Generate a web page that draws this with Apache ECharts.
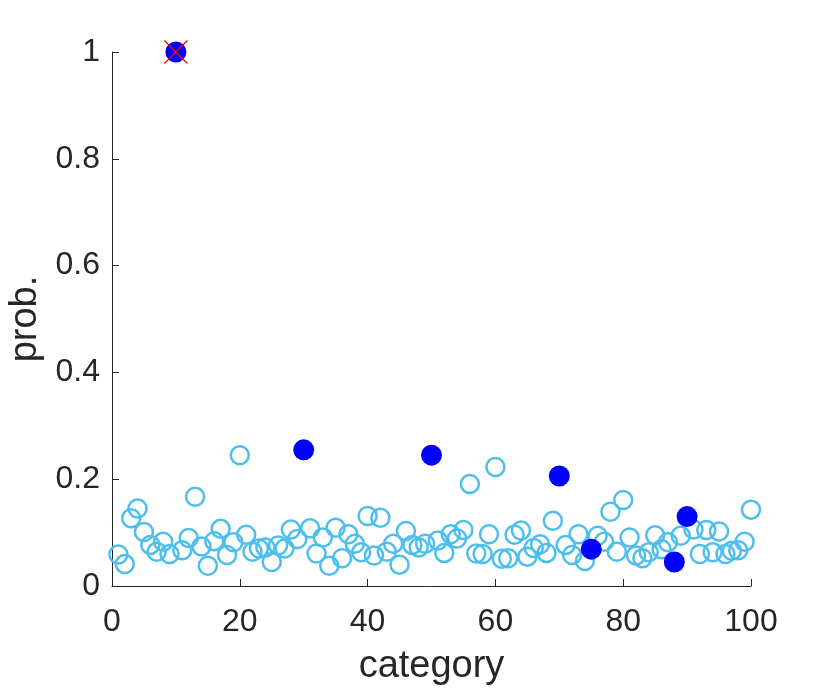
<!DOCTYPE html>
<html>
<head>
<meta charset="utf-8">
<script src="https://cdn.jsdelivr.net/npm/echarts@6/dist/echarts.min.js"></script>
<style>
  html, body { margin: 0; padding: 0; background: #fff; }
  #chart { width: 830px; height: 692px; }
</style>
</head>
<body>
<div id="chart"></div>
<script>
// probability of each category (1..100), null where the point is drawn filled
var probs = [
  0.059, 0.041, 0.127, 0.145, 0.101, 0.077, 0.064, 0.083, 0.060, null,
  0.067, 0.090, 0.167, 0.074, 0.038, 0.084, 0.107, 0.058, 0.082, 0.245,
  0.096, 0.064, 0.070, 0.072, 0.045, 0.076, 0.070, 0.106, 0.088, null,
  0.108, 0.061, 0.091, 0.038, 0.109, 0.052, 0.097, 0.079, 0.063, 0.131,
  0.057, 0.128, 0.064, 0.079, 0.040, 0.103, 0.077, 0.072, 0.079, null,
  0.085, 0.062, 0.097, 0.089, 0.105, 0.191, 0.061, 0.060, 0.097, 0.223,
  0.051, 0.052, 0.096, 0.104, 0.055, 0.071, 0.078, 0.062, 0.122, null,
  0.077, 0.058, 0.097, 0.047, null, 0.094, 0.083, 0.139, 0.064, 0.161,
  0.091, 0.057, 0.052, 0.063, 0.095, 0.069, 0.082, null, 0.094, null,
  0.106, 0.060, 0.105, 0.063, 0.102, 0.060, 0.066, 0.067, 0.083, 0.143
];

// highlighted categories and their probabilities
var selCats = [10, 30, 50, 70, 75, 88, 90];
var selProbs = [1.0, 0.255, 0.245, 0.206, 0.069, 0.045, 0.130];

// the category marked with a cross
var crossCats = [10];
var crossProbs = [1.0];

var xTicks = [0, 20, 40, 60, 80, 100];
var yTicks = [0, 0.2, 0.4, 0.6, 0.8, 1];

var textColor = '#262626';
var fontName = 'Liberation Sans';

var hollowData = [];
for (var i = 0; i < probs.length; i++) {
  if (probs[i] !== null) hollowData.push([i + 1, probs[i]]);
}
var filledData = selCats.map(function (c, k) { return [c, selProbs[k]]; });
var crossData = crossCats.map(function (c, k) { return [c, crossProbs[k]]; });

var chart = echarts.init(document.getElementById('chart'));

var axisCommon = {
  type: 'value',
  axisLine: { show: true, lineStyle: { color: textColor, width: 1 } },
  axisTick: { show: true, inside: true, length: 7, lineStyle: { color: textColor } },
  splitLine: { show: false },
  nameLocation: 'middle',
  nameTextStyle: { color: textColor, fontSize: 38, fontFamily: fontName }
};

var option = {
  backgroundColor: '#fff',
  animation: false,
  grid: { left: 112, right: 79, top: 52, bottom: 106, outerBoundsMode: 'none', containLabel: false },
  xAxis: Object.assign({}, axisCommon, {
    min: xTicks[0],
    max: xTicks[xTicks.length - 1],
    interval: 20,
    name: 'category',
    nameGap: 62,
    axisLabel: { color: textColor, fontSize: 32, fontFamily: fontName, margin: 20 }
  }),
  yAxis: Object.assign({}, axisCommon, {
    min: yTicks[0],
    max: yTicks[yTicks.length - 1],
    interval: 0.2,
    name: 'prob.',
    nameGap: 55,
    axisLabel: { color: textColor, fontSize: 32, fontFamily: fontName, margin: 12 }
  }),
  series: [
    {
      type: 'scatter',
      data: hollowData,
      symbol: 'circle',
      symbolSize: 18,
      itemStyle: { color: 'rgba(255,255,255,0)', borderColor: '#4DBEEE', borderWidth: 2.5, opacity: 1 },
      z: 2
    },
    {
      type: 'scatter',
      data: filledData,
      symbol: 'circle',
      symbolSize: 21,
      itemStyle: { color: '#0000FF', opacity: 1 },
      z: 3
    },
    {
      type: 'scatter',
      data: crossData,
      symbol: 'path://M0,0L10,10M10,0L0,10',
      symbolSize: 23,
      itemStyle: { color: 'rgba(0,0,0,0)', borderColor: '#FF0000', borderWidth: 1.2, opacity: 1 },
      z: 4
    }
  ]
};

chart.setOption(option);
</script>
</body>
</html>
